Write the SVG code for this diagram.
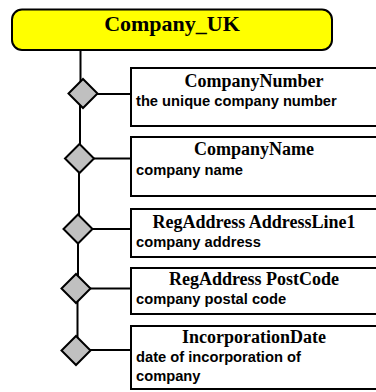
<svg xmlns="http://www.w3.org/2000/svg" width="376" height="392" viewBox="0 0 376 392">
<style>
.hdr{fill:#ffff00;stroke:#000;stroke-width:2}
.box{fill:#fff;stroke:#000;stroke-width:2}
.dia{fill:#c0c0c0;stroke:#000;stroke-width:2}
.ln{stroke:#000;stroke-width:2;fill:none}
.ht{font-family:"Liberation Serif","Times New Roman",serif;font-weight:bold;font-size:22px;text-anchor:middle}
.tt{font-family:"Liberation Serif","Times New Roman",serif;font-weight:bold;font-size:18px;text-anchor:middle}
.dt{font-family:"Liberation Sans",Arial,sans-serif;font-weight:bold;font-size:14.7px}
</style>
<rect width="376" height="392" fill="#fff"/>
<g id="connectors">
<path class="ln" d="M80.5 50V93M80 93V158M79 158V229M78 229V288M77.5 288V350"/>
<path class="ln" d="M97 94H131M94 158.5H131M92 229H131M90 288.5H131M90 350H131"/>
</g>
<g id="Company_UK">
<rect class="hdr" x="12" y="9.5" width="320" height="40.5" rx="10"/>
<text class="ht" x="172" y="31">Company_UK</text>
</g>
<g id="CompanyNumber">
<path class="dia" d="M83 79L97.5 93.5L83 108L68.5 93.5Z"/>
<rect class="box" x="131" y="68" width="250" height="58"/>
<text class="tt" x="254" y="87">CompanyNumber</text>
<text class="dt" x="136" y="106">the unique company number</text>
</g>
<g id="CompanyName">
<path class="dia" d="M79.5 144L94 158.5L79.5 173L65 158.5Z"/>
<rect class="box" x="131" y="137" width="250" height="59"/>
<text class="tt" x="254" y="155">CompanyName</text>
<text class="dt" x="136" y="175">company name</text>
</g>
<g id="RegAddressAddressLine1">
<path class="dia" d="M78 214.5L92.5 229L78 243.5L63.5 229Z"/>
<rect class="box" x="131" y="209" width="250" height="48"/>
<text class="tt" x="254" y="228">RegAddress AddressLine1</text>
<text class="dt" x="136" y="247">company address</text>
</g>
<g id="RegAddressPostCode">
<path class="dia" d="M76 274L90.5 288.5L76 303L61.5 288.5Z"/>
<rect class="box" x="131" y="268" width="250" height="46"/>
<text class="tt" x="254" y="285">RegAddress PostCode</text>
<text class="dt" x="136" y="304">company postal code</text>
</g>
<g id="IncorporationDate">
<path class="dia" d="M76 336L90.5 350.5L76 365L61.5 350.5Z"/>
<rect class="box" x="131" y="326" width="250" height="63"/>
<text class="tt" x="254" y="343">IncorporationDate</text>
<text class="dt" x="136" y="362">date of incorporation of</text>
<text class="dt" x="136" y="381">company</text>
</g>
</svg>
